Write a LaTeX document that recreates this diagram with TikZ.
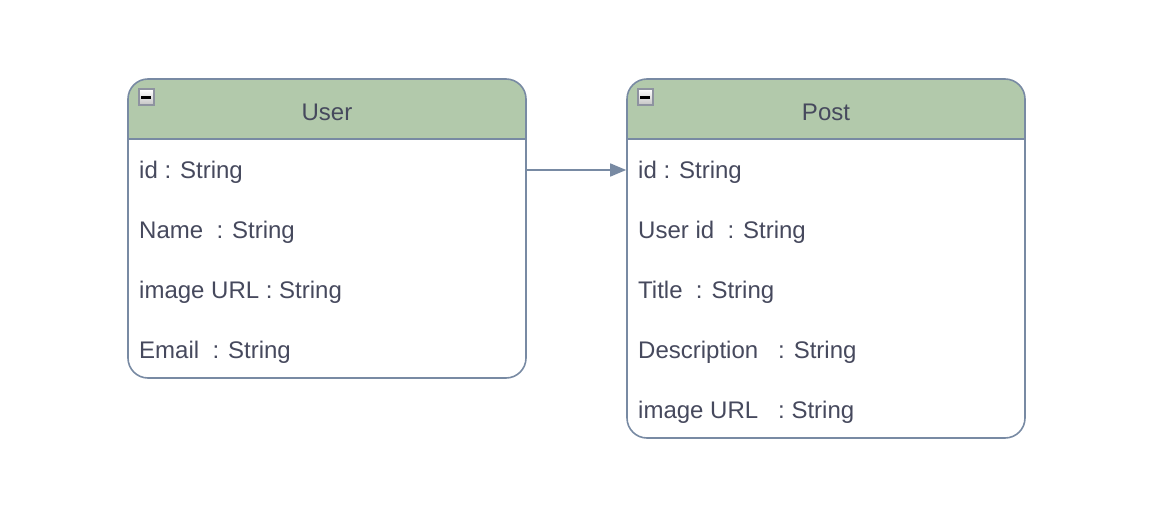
\documentclass[tikz,border=0pt]{standalone}
\usepackage{fontspec}
\setmainfont{Liberation Sans}
\usetikzlibrary{arrows.meta}
\definecolor{edge}{HTML}{788AA3}
\definecolor{head}{HTML}{B2C9AB}
\definecolor{ink}{HTML}{46495D}
\definecolor{iconedge}{HTML}{8E93A0}
\tikzset{
  tbl/.style={draw=edge, line width=1.6pt, rounded corners=20pt},
  rowtext/.style={anchor=west, text=ink, font=\fontsize{24}{28}\selectfont, inner sep=0pt},
  headtext/.style={text=ink, font=\fontsize{24}{28}\selectfont, inner sep=0pt},
  iconbox/.style={draw=iconedge, line width=2pt, top color=white, bottom color=gray!45, minimum size=15pt, inner sep=0pt},
  link/.style={draw=edge, line width=1.6pt, -{Triangle[length=16pt,width=13pt]}},
}
\begin{document}
\begin{tikzpicture}[x=1pt,y=-1pt]
\useasboundingbox (0,0) rectangle (1149,511);
% User table
\begin{scope}
  \clip[rounded corners=20pt] (128,79) rectangle (526,378);
  \fill[white] (128,79) rectangle (526,378);
  \fill[head] (128,79) rectangle (526,139);
\end{scope}
\draw[draw=edge, line width=1.6pt] (128,139) -- (526,139);
\node[tbl, minimum width=398pt, minimum height=299pt, inner sep=0pt] (user) at (327,228.5) {};
\node[headtext] (usertitle) at (327,112) {User};
\node[iconbox] (usericon) at (146,97) {};
\fill[black] (141,95.5) rectangle (151,98.5);
\node[rowtext] (u1) at (139,172) {id : String};
\node[rowtext] (u2) at (139,232) {Name~~: String};
\node[rowtext] (u3) at (139,292) {image URL : String};
\node[rowtext] (u4) at (139,352) {Email~~: String};
% Post table
\begin{scope}
  \clip[rounded corners=20pt] (627,79) rectangle (1025,438);
  \fill[white] (627,79) rectangle (1025,438);
  \fill[head] (627,79) rectangle (1025,139);
\end{scope}
\draw[draw=edge, line width=1.6pt] (627,139) -- (1025,139);
\node[tbl, minimum width=398pt, minimum height=359pt, inner sep=0pt] (post) at (826,258.5) {};
\node[headtext] (posttitle) at (826,112) {Post};
\node[iconbox] (posticon) at (645,97) {};
\fill[black] (640,95.5) rectangle (650,98.5);
\node[rowtext] (p1) at (638,172) {id : String};
\node[rowtext] (p2) at (638,232) {User id~~: String};
\node[rowtext] (p3) at (638,292) {Title~~: String};
\node[rowtext] (p4) at (638,352) {Description~~~: String};
\node[rowtext] (p5) at (638,412) {image URL~~~: String};
% connector
\draw[link] (user.east |- 0,170) -- (post.west |- 0,170);
\end{tikzpicture}
\end{document}
